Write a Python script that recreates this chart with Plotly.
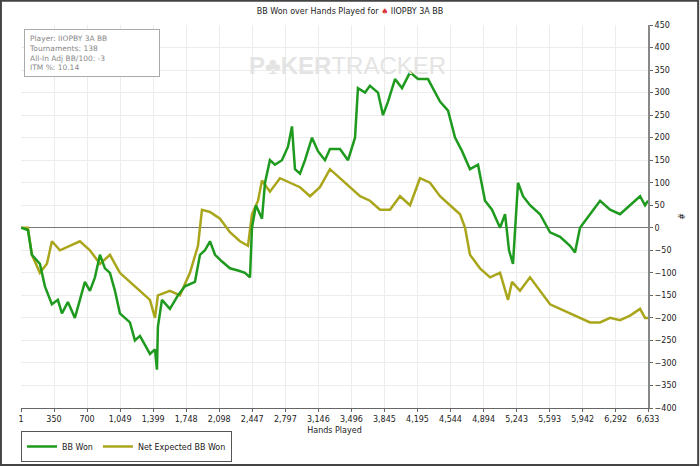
import plotly.graph_objects as go

# hands played / values
won_hands = [1, 74, 116, 201, 254, 328, 391, 434, 497, 571, 624, 677, 730, 783, 836, 889, 942, 995,
             1047, 1100, 1153, 1206, 1259, 1312, 1365, 1418, 1439, 1449, 1492, 1576, 1661, 1735, 1841,
             1894, 1947, 2000, 2053, 2127, 2211, 2296, 2370, 2423, 2444, 2486, 2550, 2582, 2634, 2687,
             2761, 2825, 2867, 2899, 2952, 3005, 3079, 3142, 3216, 3269, 3375, 3460, 3534, 3565, 3640,
             3692, 3777, 3830, 3883, 3957, 4031, 4116, 4200, 4306, 4380, 4433, 4518, 4592, 4666, 4750,
             4835, 4909, 4983, 5068, 5121, 5163, 5205, 5258, 5311, 5385, 5491, 5597, 5703, 5808, 5861,
             5914, 6020, 6126, 6232, 6337, 6443, 6549, 6602, 6633]
bb_won = [0, -5, -60, -80, -130, -170, -160, -190, -165, -200, -160, -120, -140, -110, -60, -90, -100,
          -140, -190, -200, -210, -250, -240, -260, -280, -270, -315, -220, -160, -180, -150, -130, -120,
          -60, -50, -30, -60, -75, -90, -95, -100, -110, 0, 50, 20, 100, 150, 140, 150, 180, 225, 130,
          120, 150, 200, 170, 150, 175, 175, 150, 200, 310, 300, 315, 300, 250, 280, 330, 310, 345, 330,
          330, 300, 280, 260, 200, 170, 130, 140, 60, 40, 0, 30, -50, -80, 100, 70, 50, 30, -10, -20,
          -40, -55, 0, 30, 60, 40, 30, 50, 70, 50, 60]

ev_hands = [1, 74, 116, 201, 275, 328, 413, 518, 624, 730, 836, 942, 1047, 1153, 1259, 1365, 1418, 1449,
            1576, 1682, 1788, 1873, 1915, 2000, 2106, 2211, 2317, 2402, 2444, 2508, 2550, 2634, 2740,
            2846, 2952, 3058, 3163, 3269, 3375, 3481, 3587, 3692, 3798, 3904, 4010, 4116, 4221, 4327,
            4433, 4539, 4645, 4698, 4750, 4856, 4962, 5068, 5152, 5195, 5279, 5385, 5491, 5597, 5703,
            5808, 5914, 6020, 6126, 6232, 6337, 6443, 6549, 6602, 6633]
ev_won = [0, 0, -60, -100, -80, -30, -50, -40, -30, -50, -80, -60, -100, -120, -140, -160, -200, -150,
          -140, -150, -100, -40, 40, 35, 20, -10, -30, -40, 30, 60, 105, 80, 110, 100, 90, 70, 90, 130,
          110, 90, 70, 60, 40, 40, 70, 50, 110, 100, 70, 50, 30, 0, -60, -90, -110, -100, -160, -120,
          -140, -110, -140, -170, -180, -190, -200, -210, -210, -200, -205, -195, -180, -200, -200]

tick_vals = [1, 350, 700, 1049, 1399, 1748, 2098, 2447, 2797, 3146, 3496, 3845, 4195, 4544, 4894,
             5243, 5593, 5942, 6292, 6633]
tick_text = ["1", "350", "700", "1,049", "1,399", "1,748", "2,098", "2,447", "2,797", "3,146", "3,496",
             "3,845", "4,195", "4,544", "4,894", "5,243", "5,593", "5,942", "6,292", "6,633"]

fig = go.Figure()
fig.add_trace(go.Scatter(x=ev_hands, y=ev_won, name="Net Expected BB Won",
                         line=dict(color="#aaa61c", width=2.5)))
fig.add_trace(go.Scatter(x=won_hands, y=bb_won, name="BB Won",
                         line=dict(color="#1e9a1e", width=2.5)))

fig.update_layout(
    width=700, height=467,
    margin=dict(l=21, r=52, t=25, b=59, autoexpand=False),
    paper_bgcolor="white", plot_bgcolor="white",
    font=dict(family="DejaVu Sans", size=8, color="#222"),
    title=dict(text="BB Won over Hands Played for <span style='color:#d33'>♠</span> IIOPBY 3A BB",
               x=0.5, y=0.975, yanchor="middle", font=dict(size=8)),
    showlegend=True,
    legend=dict(orientation="h", x=0.0, y=-0.06, xanchor="left", yanchor="top",
                bordercolor="#555", borderwidth=1, traceorder="reversed", itemwidth=30,
                font=dict(size=8)),
    xaxis=dict(range=[1, 6633], tickvals=tick_vals, ticktext=tick_text, showgrid=True,
               gridcolor="#ececec", showline=True, linecolor="#666", ticks="outside",
               ticklen=3, tickcolor="#666", zeroline=False, automargin=False,
               title=dict(text="Hands Played", standoff=4, font=dict(size=8))),
    yaxis=dict(range=[-400, 450], dtick=50, side="right", showgrid=True, gridcolor="#ececec",
               showline=True, linecolor="#888", linewidth=2, ticks="outside", ticklen=3,
               tickcolor="#666", zeroline=True, zerolinecolor="#777", zerolinewidth=1,
               automargin=False, title=dict(text="#", standoff=4, font=dict(size=8))),
)

fig.add_annotation(xref="paper", yref="paper", x=0.005, y=0.99, xanchor="left", yanchor="top",
                   align="left", showarrow=False, bordercolor="#aaa", borderwidth=1, borderpad=4,
                   bgcolor="white", font=dict(size=7.5, color="#888"),
                   text="Player: IIOPBY 3A BB<br>Tournaments: 138<br>All-In Adj BB/100: -3<br>ITM %: 10.14" + "&nbsp;" * 32)
fig.add_annotation(xref="paper", yref="paper", x=0.52, y=0.935, showarrow=False,
                   text="<b>P♣KER</b>TRACKER", font=dict(size=24, color="#e4e4e4", family="Liberation Sans"))
fig.add_shape(type="rect", xref="paper", yref="paper", x0=-0.032, y0=-0.149, x1=1.08, y1=1.063,
              line=dict(color="#444", width=2))

fig.write_html("out.html", config={"displayModeBar": False},
               post_script="document.body.style.margin='0';")
